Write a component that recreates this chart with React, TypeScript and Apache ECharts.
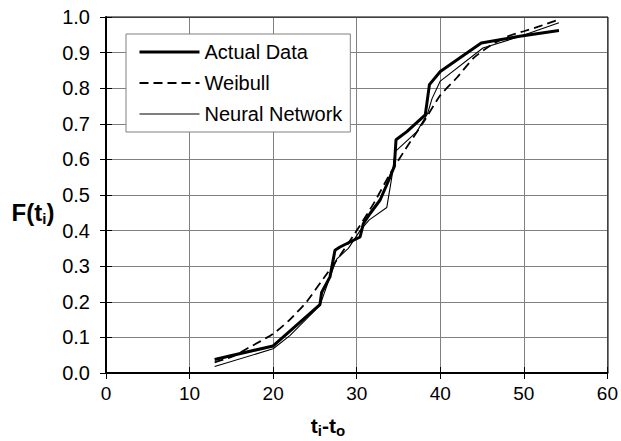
import React, { useEffect, useRef } from "react";
import * as echarts from "echarts";

const xTicks = [0, 10, 20, 30, 40, 50, 60];
const yTicks = [0, 0.1, 0.2, 0.3, 0.4, 0.5, 0.6, 0.7, 0.8, 0.9, 1.0];

const actualX = [13, 20, 25.6, 25.8, 26.8, 27.4, 28.0, 29.2, 30.4, 30.8, 31.6, 32.8, 33.8, 34.5, 34.7, 36.0, 38.2, 38.4, 38.7, 40.0, 44.9, 49.5, 54.2];
const actualY = [0.038, 0.076, 0.192, 0.226, 0.27, 0.345, 0.354, 0.368, 0.382, 0.42, 0.448, 0.486, 0.54, 0.58, 0.655, 0.678, 0.725, 0.758, 0.81, 0.847, 0.927, 0.946, 0.962];

const weibullX = [13, 15, 17, 20, 22, 24, 26, 28, 30, 32, 34, 36, 38, 40, 42, 44, 46, 48, 50, 52, 54.2];
const weibullY = [0.03, 0.045, 0.07, 0.11, 0.15, 0.2, 0.265, 0.33, 0.4, 0.475, 0.56, 0.635, 0.705, 0.78, 0.83, 0.885, 0.92, 0.945, 0.96, 0.975, 0.993];

const neuralX = [13, 20, 22, 25.6, 26.5, 27.6, 29, 30.4, 31.5, 33.6, 34.2, 34.6, 37.2, 38.5, 39, 40, 45.1, 49.5, 54.2];
const neuralY = [0.018, 0.068, 0.105, 0.19, 0.25, 0.32, 0.35, 0.4, 0.43, 0.465, 0.55, 0.622, 0.678, 0.73, 0.77, 0.82, 0.913, 0.945, 0.984];

const seriesNames = ["Actual Data", "Weibull", "Neural Network"];

const pairs = (xs: number[], ys: number[]) => xs.map((x, i) => [x, ys[i]]);

export default function App() {
  const ref = useRef<HTMLDivElement>(null);
  useEffect(() => {
    const chart = echarts.init(ref.current!, null, { renderer: "svg" });
    const font = '"Liberation Sans", Arial, sans-serif';
    const gridLeft = 106, gridRight = 13, gridTop = 17, gridBottom = 68;
    const W = 621, H = 441;
    const xMin = xTicks[0], xMax = xTicks[xTicks.length - 1];
    const yMin = yTicks[0], yMax = yTicks[yTicks.length - 1];
    const baseX = { type: "value", min: xMin, max: xMax, interval: 10 };
    const baseY = { type: "value", min: yMin, max: yMax, interval: 0.1 };
    chart.setOption({
      animation: false,
      backgroundColor: "#fff",
      grid: { left: gridLeft, right: gridRight, top: gridTop, bottom: gridBottom, containLabel: false },
      xAxis: [
        {
          ...baseX, position: "bottom",
          axisLine: { show: true, onZero: false, lineStyle: { color: "#000", width: 2 } },
          axisTick: { show: true, length: 6, lineStyle: { color: "#000", width: 1 } },
          axisLabel: { color: "#000", fontSize: 19, fontFamily: font, margin: 11 },
          splitLine: { show: true, lineStyle: { color: "#808080", width: 1 } },
        },
        {
          ...baseX, position: "bottom",
          axisLine: { show: false },
          axisTick: { show: true, inside: true, length: 6, lineStyle: { color: "#000", width: 1 } },
          axisLabel: { show: false },
          splitLine: { show: false },
        },
      ],
      yAxis: [
        {
          ...baseY, position: "left",
          axisLine: { show: true, onZero: false, lineStyle: { color: "#000", width: 2 } },
          axisTick: { show: true, length: 6, lineStyle: { color: "#000", width: 1 } },
          axisLabel: { color: "#000", fontSize: 20, fontFamily: font, margin: 16, formatter: (v: number) => v.toFixed(1) },
          splitLine: { show: true, lineStyle: { color: "#808080", width: 1 } },
        },
        {
          ...baseY, position: "left",
          axisLine: { show: false },
          axisTick: { show: true, inside: true, length: 6, lineStyle: { color: "#000", width: 1 } },
          axisLabel: { show: false },
          splitLine: { show: false },
        },
      ],
      legend: {
        show: true, orient: "vertical", left: 126, top: 34,
        padding: [8, 8, 8, 12], itemGap: 11, itemWidth: 60, itemHeight: 14,
        backgroundColor: "#fff", borderColor: "#808080", borderWidth: 1, borderRadius: 0,
        textStyle: { fontSize: 20, fontFamily: font, color: "#000", lineHeight: 20 },
        itemStyle: { opacity: 0 },
        lineStyle: { width: "inherit" },
        data: seriesNames,
        z: 10,
      },
      series: [
        {
          name: seriesNames[0], type: "line", data: pairs(actualX, actualY),
          symbol: "none", showSymbol: false,
          lineStyle: { color: "#000", width: 3 }, itemStyle: { color: "#000" }, z: 4,
        },
        {
          name: seriesNames[1], type: "line", data: pairs(weibullX, weibullY),
          symbol: "none", showSymbol: false, smooth: 0.2,
          lineStyle: { color: "#000", width: 1.8, type: [9, 5] }, itemStyle: { color: "#000" }, z: 3,
        },
        {
          name: seriesNames[2], type: "line", data: pairs(neuralX, neuralY),
          symbol: "none", showSymbol: false,
          lineStyle: { color: "#000", width: 1.1 }, itemStyle: { color: "#000" }, z: 3,
        },
      ],
      graphic: [
        {
          type: "rect", silent: true, z: 100,
          shape: { x: gridLeft, y: gridTop, width: W - gridLeft - gridRight, height: H - gridTop - gridBottom },
          style: { fill: "none", stroke: "#000", lineWidth: 1 },
        },
        {
          type: "text", x: 33, y: 212, z: 100,
          style: {
            text: "{b|F(t}{s|i}{b|)}",
            align: "center", verticalAlign: "middle",
            rich: {
              b: { fontSize: 24, fontWeight: "bold", fontFamily: font, fill: "#000", lineHeight: 28, verticalAlign: "middle" },
              s: { fontSize: 15, fontWeight: "bold", fontFamily: font, fill: "#000", lineHeight: 28, verticalAlign: "bottom" },
            },
          },
        },
        {
          type: "text", x: 328, y: 425, z: 100,
          style: {
            text: "{b|t}{s|i}{b|-t}{s|o}",
            align: "center", verticalAlign: "middle",
            rich: {
              b: { fontSize: 21, fontWeight: "bold", fontFamily: font, fill: "#000", lineHeight: 26, verticalAlign: "middle" },
              s: { fontSize: 15, fontWeight: "bold", fontFamily: font, fill: "#000", lineHeight: 26, verticalAlign: "bottom" },
            },
          },
        },
      ],
    });
    return () => chart.dispose();
  }, []);
  return (
    <div
      ref={ref}
      style={{ position: "fixed", left: 0, top: 0, width: 621, height: 441, background: "#fff" }}
    />
  );
}
